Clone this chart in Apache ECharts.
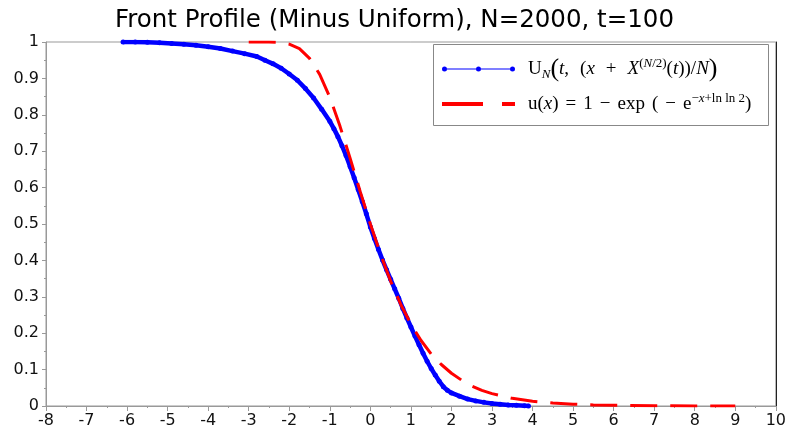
<!DOCTYPE html>
<html>
<head>
<meta charset="utf-8">
<script src="https://cdn.jsdelivr.net/npm/echarts@6/dist/echarts.min.js"></script>
<style>
  html, body { margin: 0; padding: 0; background: #fff; }
  #chart { width: 789px; height: 435px; }
</style>
</head>
<body>
<div id="chart"></div>
<script>
// blue: simulated front profile
const blueX = [-6.1, -5.8, -5.5, -5.2, -4.9, -4.6, -4.3, -4.0, -3.7, -3.4,
  -3.1, -2.8, -2.6, -2.4, -2.2, -2.0, -1.8, -1.6, -1.4, -1.2,
  -1.0, -0.9, -0.8, -0.7, -0.6, -0.5, -0.4, -0.3, -0.2, -0.1,
  0.0, 0.1, 0.2, 0.3, 0.4, 0.5, 0.6, 0.7, 0.8, 0.9,
  1.0, 1.1, 1.2, 1.3, 1.4, 1.5, 1.6, 1.7, 1.8, 1.9,
  2.0, 2.2, 2.4, 2.6, 2.8, 3.0, 3.2, 3.4, 3.6, 3.8, 3.9];
const blueY = [1.000, 1.000, 0.999, 0.998, 0.996, 0.994, 0.991, 0.987, 0.982, 0.975,
  0.968, 0.960, 0.950, 0.940, 0.928, 0.912, 0.895, 0.872, 0.846, 0.815,
  0.782, 0.762, 0.740, 0.715, 0.688, 0.658, 0.627, 0.595, 0.562, 0.528,
  0.492, 0.460, 0.430, 0.401, 0.374, 0.348, 0.322, 0.296, 0.268, 0.242,
  0.217, 0.192, 0.168, 0.145, 0.123, 0.103, 0.085, 0.068, 0.053, 0.043,
  0.036, 0.027, 0.019, 0.014, 0.010, 0.007, 0.005, 0.003, 0.002, 0.001, 0.000];

// red dashed: u(x) curve as seen in the picture
const redX = [-3, -2.75, -2.5, -2.25, -2, -1.75, -1.5, -1.25, -1, -0.75,
  -0.5, -0.25, 0, 0.25, 0.5, 0.75, 1, 1.25, 1.5, 1.75,
  2, 2.25, 2.5, 2.75, 3, 3.5, 4, 4.5, 5, 5.5, 6, 7, 8, 9];
const redY = [1.000, 1.000, 1.000, 0.999, 0.994, 0.982, 0.955, 0.911, 0.848, 0.769,
  0.681, 0.589, 0.500, 0.417, 0.343, 0.279, 0.225, 0.180, 0.143, 0.114,
  0.090, 0.071, 0.055, 0.043, 0.034, 0.021, 0.013, 0.008, 0.005, 0.003,
  0.002, 0.001, 0.000, 0.000];

const xTicks = { min: -8, max: 10, step: 1 };
const yTicks = { min: 0, max: 1, step: 0.1 };

const SERIF = 'Liberation Serif';
const legendText = {
  blue: '{sp| }{rm|U}{subIt|N}{big|(}{it|t}{rm|,}{wb| }{rm|(}{it|x}{wb| }{rm|+}{wb| }{it|X}{supRm|(}{supIt|N}{supRm|/2)}{rm|(}{it|t}{rm|))/}{it|N}{big|)}',
  red: '{sp| }{rm|u(}{it|x}{rm|)}{ws| }{rm|=}{ws| }{rm|1}{ws| }{rm|−}{ws| }{rm|exp}{ws| }{rm|(}{ws| }{rm|−}{ws| }{rm|e}{supRm|−}{supIt|x}{supRm|+ln ln 2}{rm|)}'
};

const chart = echarts.init(document.getElementById('chart'));
chart.setOption({
  animation: false,
  title: {
    text: 'Front Profile (Minus Uniform), N=2000, t=100',
    left: 'center',
    top: 3,
    textStyle: { fontFamily: 'DejaVu Sans', fontSize: 24.5, fontWeight: 'normal', color: '#000' }
  },
  grid: {
    left: 46, right: 13, top: 42, bottom: 29,
    show: true, borderColor: '#999', borderWidth: 1
  },
  graphic: [{
    type: 'rect', z: 3,
    shape: { x: 433.5, y: 44.5, width: 335, height: 81 },
    style: { fill: '#fff', stroke: '#888', lineWidth: 1 }
  }],
  legend: {
    orient: 'vertical',
    left: 442, top: 56,
    padding: 0,
    itemGap: 10,
    itemWidth: 73,
    itemHeight: 24,
    z: 5,
    itemStyle: { borderWidth: 0 },
    data: [
      { name: 'blue', icon: 'path://M0,3a2.5,2.5 0 1,0 5,0a2.5,2.5 0 1,0 -5,0Z M5,2.5H34V3.5H5Z M34,3a2.5,2.5 0 1,0 5,0a2.5,2.5 0 1,0 -5,0Z M39,2.5H68V3.5H39Z M68,3a2.5,2.5 0 1,0 5,0a2.5,2.5 0 1,0 -5,0Z' },
      { name: 'red', icon: 'path://M0,0H41V4H0Z M60,0H73V4H60Z' }
    ],
    formatter: name => legendText[name],
    textStyle: {
      rich: {
        sp: { width: 8, fontSize: 19, lineHeight: 24 },
        wb: { width: 11, fontSize: 19, lineHeight: 24 },
        ws: { width: 7, fontSize: 19, lineHeight: 24 },
        rm: { fontFamily: SERIF, fontSize: 19, lineHeight: 24, color: '#000' },
        it: { fontFamily: SERIF, fontSize: 19, fontStyle: 'italic', lineHeight: 24, color: '#000' },
        big: { fontFamily: SERIF, fontSize: 26, lineHeight: 24, color: '#000' },
        subIt: { fontFamily: SERIF, fontSize: 13, fontStyle: 'italic', lineHeight: 10, verticalAlign: 'bottom', color: '#000' },
        supIt: { fontFamily: SERIF, fontSize: 13, fontStyle: 'italic', lineHeight: 10, verticalAlign: 'top', color: '#000' },
        supRm: { fontFamily: SERIF, fontSize: 13, lineHeight: 10, verticalAlign: 'top', color: '#000' }
      }
    }
  },
  xAxis: {
    type: 'value',
    min: xTicks.min, max: xTicks.max, interval: xTicks.step,
    axisLine: { show: true, onZero: false, lineStyle: { color: '#999' } },
    axisTick: { show: true, length: 5, lineStyle: { color: '#999' } },
    minorTick: { show: true, splitNumber: 2, length: 2, lineStyle: { color: '#999' } },
    splitLine: { show: false },
    axisLabel: { fontFamily: 'DejaVu Sans', fontSize: 16, color: '#111', margin: 7 }
  },
  yAxis: [{
    type: 'value',
    min: yTicks.min, max: yTicks.max, interval: yTicks.step,
    axisLine: { show: true, onZero: false, lineStyle: { color: '#999' } },
    axisTick: { show: true, length: 4, lineStyle: { color: '#999' } },
    minorTick: { show: true, splitNumber: 2, length: 2, lineStyle: { color: '#999' } },
    splitLine: { show: false },
    axisLabel: { fontFamily: 'DejaVu Sans', fontSize: 16, color: '#111', margin: 7 }
  }, {
    type: 'value', position: 'right',
    min: yTicks.min, max: yTicks.max,
    axisLine: { show: true, onZero: false, lineStyle: { color: '#222' } },
    axisTick: { show: false }, axisLabel: { show: false }, splitLine: { show: false }
  }],
  series: [{
    name: 'blue',
    type: 'line',
    data: blueX.map((x, i) => [x, blueY[i]]),
    color: '#0000ff',
    symbol: 'circle',
    symbolSize: 5,
    showAllSymbol: true,
    lineStyle: { width: 4.5, color: '#0000ff' },
    itemStyle: { color: '#0000ff', borderWidth: 0 },
    z: 2
  }, {
    name: 'red',
    type: 'line',
    data: redX.map((x, i) => [x, redY[i]]),
    color: '#ff0000',
    symbol: 'none',
    lineStyle: { width: 3, color: '#ff0000', type: [27, 13] },
    z: 3
  }]
});
</script>
</body>
</html>
